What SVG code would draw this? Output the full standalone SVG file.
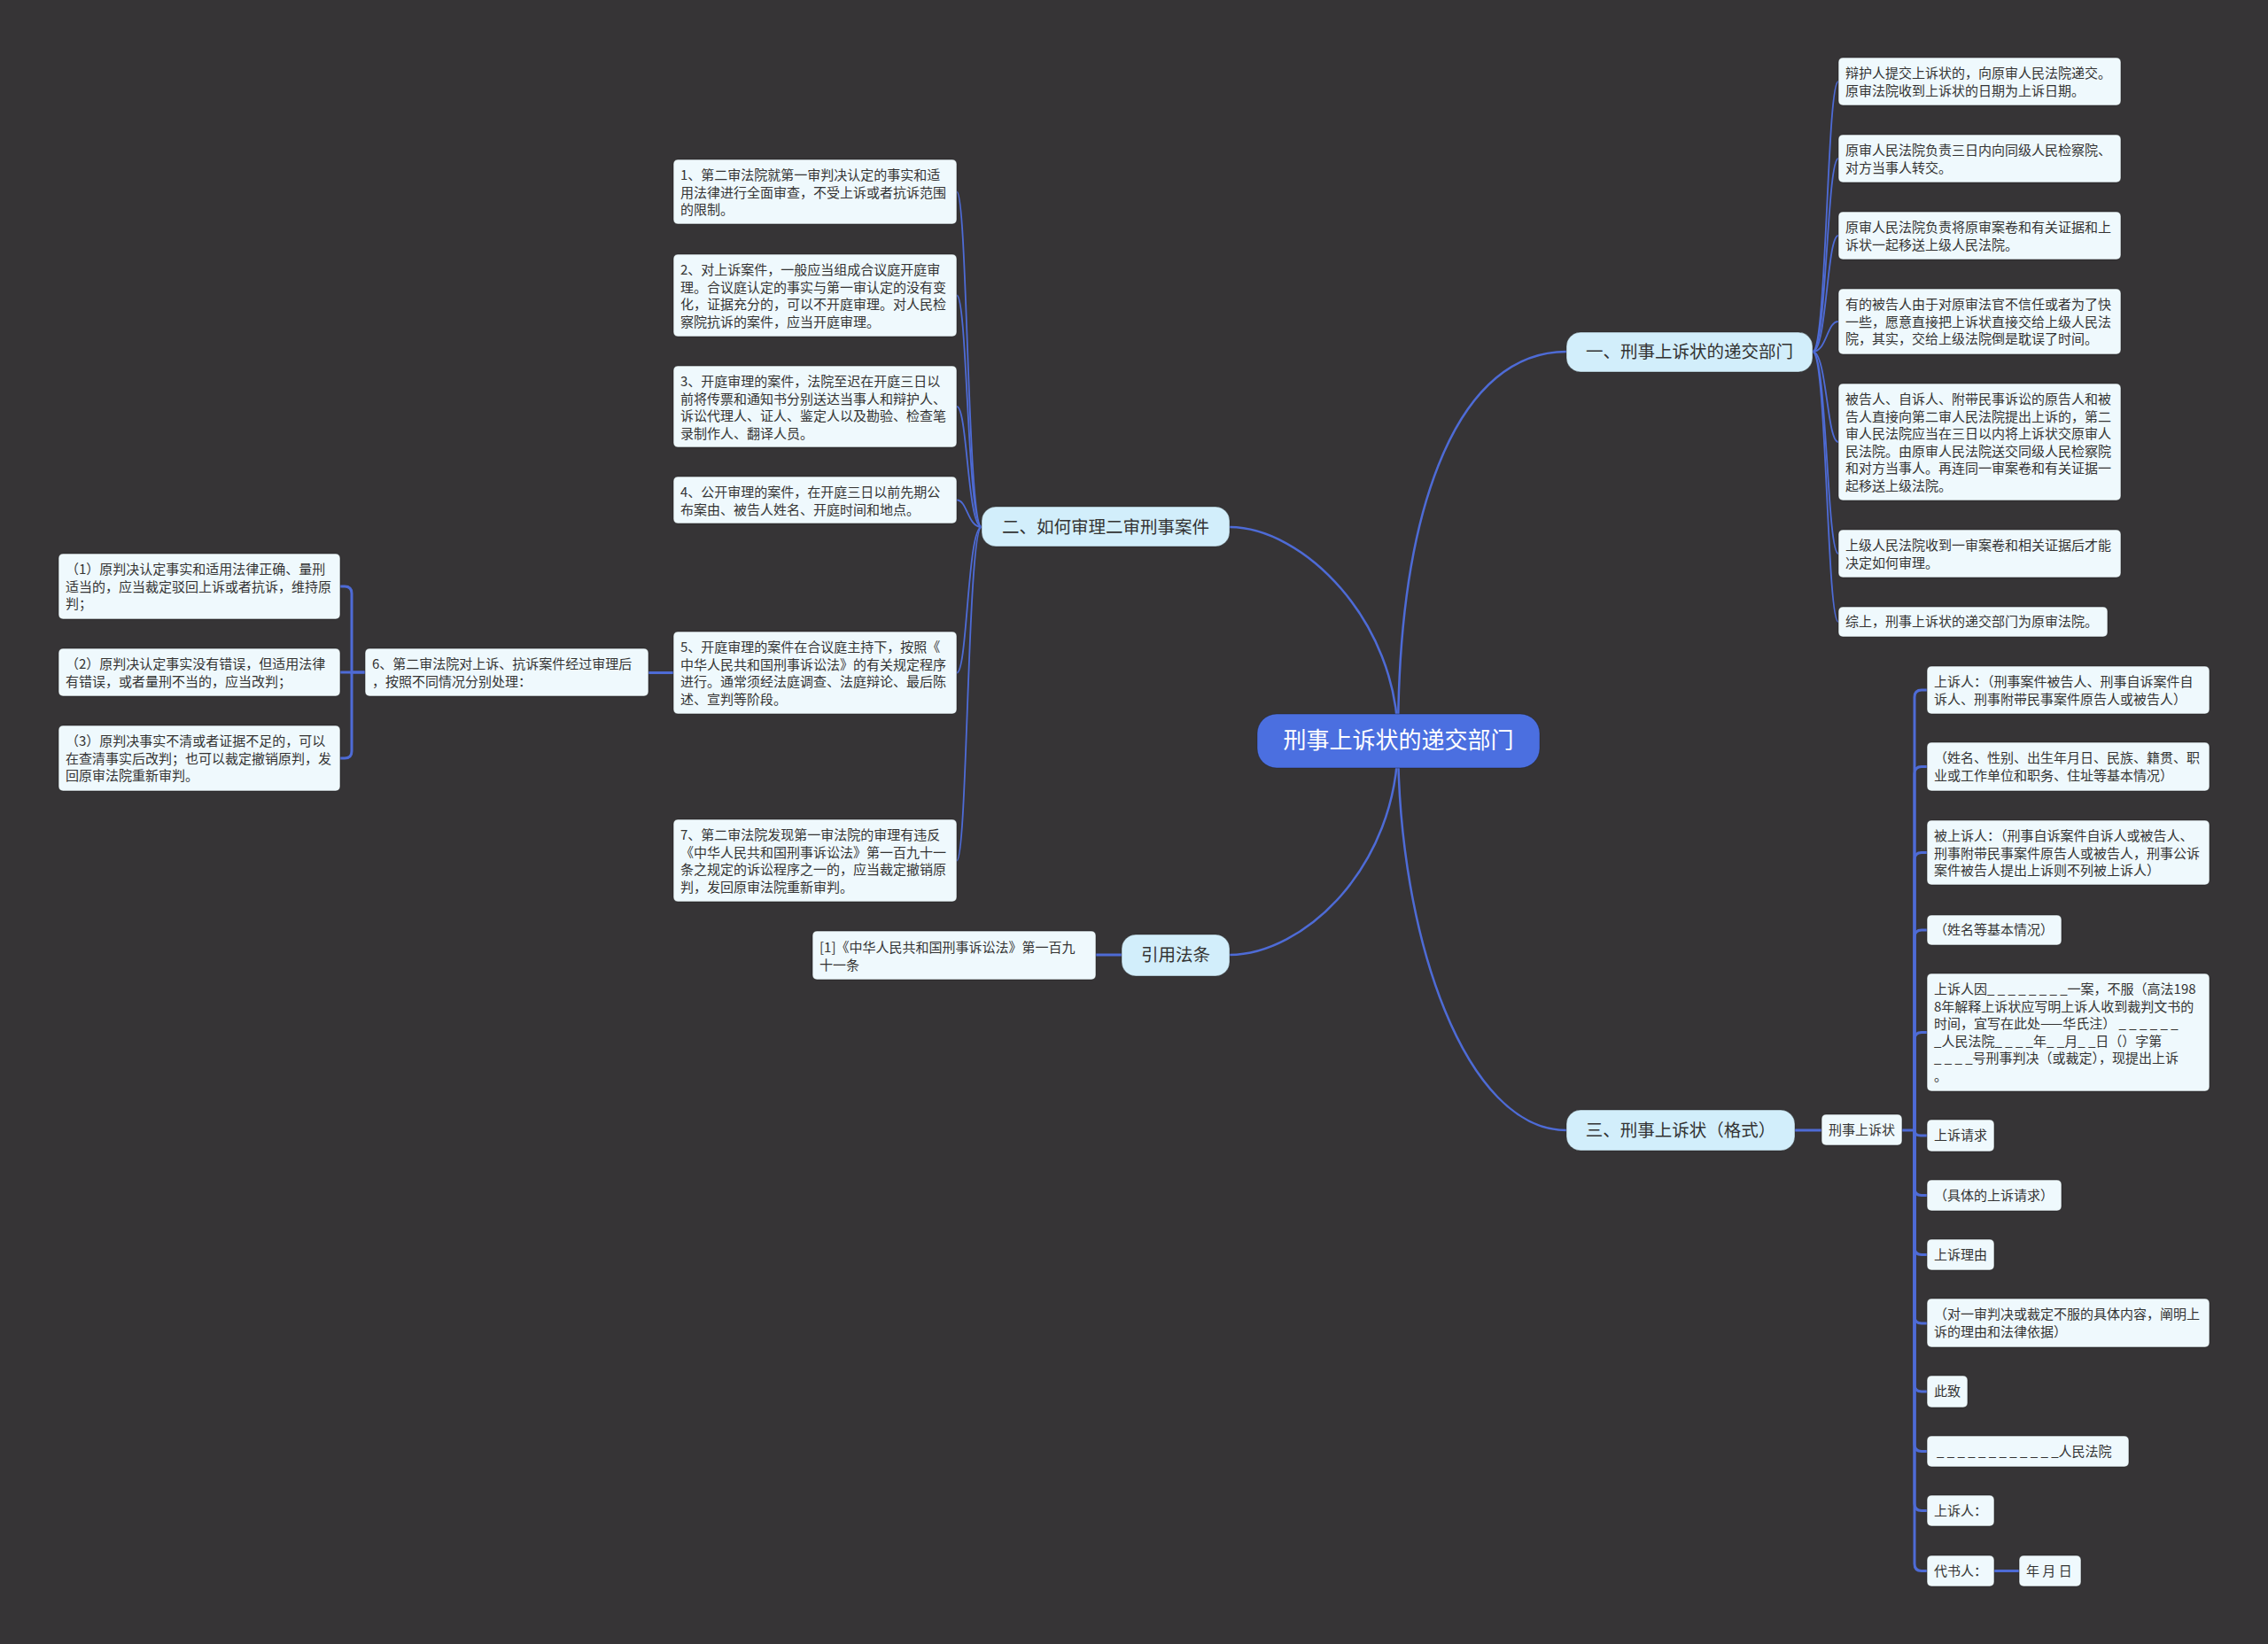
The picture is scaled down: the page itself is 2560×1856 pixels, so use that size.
<svg xmlns="http://www.w3.org/2000/svg" width="2560" height="1856" viewBox="0 0 2560 1856">
<style>
text{font-family:"Noto Sans CJK SC","Noto Sans",sans-serif;}
.leaf{fill:#eff9fd;stroke:#1c1c1c;stroke-opacity:.55;stroke-width:1}
.lt{font-size:15px;fill:#333}
.br{fill:#d2eefb;stroke:#1c1c1c;stroke-opacity:.4;stroke-width:1}
.bt{font-size:19.5px;fill:#333;text-anchor:middle}
.main{fill:none;stroke:#4e6bd6;stroke-width:2.5}
.thin{fill:none;stroke:#4e6bd6;stroke-width:1.8}
.thick{fill:none;stroke:#4e6bd6;stroke-width:3}
</style>
<rect x="0" y="0" width="2560" height="1856" fill="#363436"/>
<g id="connectors">
<path class="main" d="M1578 836 C1578 560 1650 397 1768 397"/>
<path class="main" d="M1578 836 C1578 700 1470 595 1388 595"/>
<path class="main" d="M1578 836 C1578 980 1470 1078 1388 1078"/>
<path class="main" d="M1578 836 C1578 1060 1655 1276 1768 1276"/>
<path class="thin" d="M1108 595 C1092 595 1092 216.5 1080 216.5"/>
<path class="thin" d="M1108 595 C1092 595 1092 333.5 1080 333.5"/>
<path class="thin" d="M1108 595 C1092 595 1092 459 1080 459"/>
<path class="thin" d="M1108 595 C1092 595 1092 564.5 1080 564.5"/>
<path class="thin" d="M1108 595 C1092 595 1092 759.5 1080 759.5"/>
<path class="thin" d="M1108 595 C1092 595 1092 971.5 1080 971.5"/>
<path class="thick" d="M760 759.5 H732"/>
<path class="thick" d="M412 759 H397 V670 Q397 662 389 662 H384"/>
<path class="thick" d="M412 759 H384"/>
<path class="thick" d="M397 759 V848 Q397 856 389 856 H384"/>
<path class="thick" d="M1266 1078 H1237"/>
<path class="thin" d="M2046 397 C2062 397 2062 92 2075 92"/>
<path class="thin" d="M2046 397 C2062 397 2062 179 2075 179"/>
<path class="thin" d="M2046 397 C2062 397 2062 266 2075 266"/>
<path class="thin" d="M2046 397 C2062 397 2062 363 2075 363"/>
<path class="thin" d="M2046 397 C2062 397 2062 499 2075 499"/>
<path class="thin" d="M2046 397 C2062 397 2062 625 2075 625"/>
<path class="thin" d="M2046 397 C2062 397 2062 702 2075 702"/>
<path class="thick" d="M2026 1276 H2056"/>
<path class="thick" d="M2147 1276 H2161"/>
<path class="thick" d="M2161 1276 V787 Q2161 779 2169 779 H2175"/>
<path class="thick" d="M2161 1276 V873.5 Q2161 865.5 2169 865.5 H2175"/>
<path class="thick" d="M2161 1276 V970.5 Q2161 962.5 2169 962.5 H2175"/>
<path class="thick" d="M2161 1276 V1058 Q2161 1050 2169 1050 H2175"/>
<path class="thick" d="M2161 1276 V1173.5 Q2161 1165.5 2169 1165.5 H2175"/>
<path class="thick" d="M2161 1276 Q2161 1282 2168 1282 H2175"/>
<path class="thick" d="M2161 1276 V1341.5 Q2161 1349.5 2169 1349.5 H2175"/>
<path class="thick" d="M2161 1276 V1408.5 Q2161 1416.5 2169 1416.5 H2175"/>
<path class="thick" d="M2161 1276 V1486 Q2161 1494 2169 1494 H2175"/>
<path class="thick" d="M2161 1276 V1563 Q2161 1571 2169 1571 H2175"/>
<path class="thick" d="M2161 1276 V1630.5 Q2161 1638.5 2169 1638.5 H2175"/>
<path class="thick" d="M2161 1276 V1697.5 Q2161 1705.5 2169 1705.5 H2175"/>
<path class="thick" d="M2161 1276 V1765.5 Q2161 1773.5 2169 1773.5 H2175"/>
<path class="thick" d="M2251 1773.5 H2279"/>
</g>
<g id="center">
<rect x="1419" y="806" width="319" height="61" rx="22" fill="#4b6fe0" stroke="#1c1c1c" stroke-opacity=".4"/>
<text x="1578.5" y="845" font-size="26" fill="#fff" text-anchor="middle">刑事上诉状的递交部门</text>
</g>
<g id="b1">
<rect class="br" x="1768" y="375" width="278" height="45" rx="16"/>
<text class="bt" x="1907" y="404">一、刑事上诉状的递交部门</text>
</g>
<g id="b2">
<rect class="br" x="1108" y="572" width="280" height="45" rx="16"/>
<text class="bt" x="1248" y="602">二、如何审理二审刑事案件</text>
</g>
<g id="b3">
<rect class="br" x="1768" y="1253" width="258" height="46" rx="16"/>
<text class="bt" x="1897" y="1283">三、刑事上诉状（格式）</text>
</g>
<g id="b4">
<rect class="br" x="1266" y="1055" width="122" height="47" rx="16"/>
<text class="bt" x="1327" y="1085">引用法条</text>
</g>
<g id="n1">
<rect class="leaf" x="760" y="180" width="320" height="73" rx="5"/>
<text class="lt" y="203"><tspan x="768">1、第二审法院就第一审判决认定的事实和适</tspan><tspan x="768" dy="19.5">用法律进行全面审查，不受上诉或者抗诉范围</tspan><tspan x="768" dy="19.5">的限制。</tspan></text>
</g>
<g id="n2">
<rect class="leaf" x="760" y="287" width="320" height="93" rx="5"/>
<text class="lt" y="310"><tspan x="768">2、对上诉案件，一般应当组成合议庭开庭审</tspan><tspan x="768" dy="19.5">理。合议庭认定的事实与第一审认定的没有变</tspan><tspan x="768" dy="19.5">化，证据充分的，可以不开庭审理。对人民检</tspan><tspan x="768" dy="19.5">察院抗诉的案件，应当开庭审理。</tspan></text>
</g>
<g id="n3">
<rect class="leaf" x="760" y="413" width="320" height="92" rx="5"/>
<text class="lt" y="436"><tspan x="768">3、开庭审理的案件，法院至迟在开庭三日以</tspan><tspan x="768" dy="19.5">前将传票和通知书分别送达当事人和辩护人、</tspan><tspan x="768" dy="19.5">诉讼代理人、证人、鉴定人以及勘验、检查笔</tspan><tspan x="768" dy="19.5">录制作人、翻译人员。</tspan></text>
</g>
<g id="n4">
<rect class="leaf" x="760" y="538" width="320" height="53" rx="5"/>
<text class="lt" y="561"><tspan x="768">4、公开审理的案件，在开庭三日以前先期公</tspan><tspan x="768" dy="19.5">布案由、被告人姓名、开庭时间和地点。</tspan></text>
</g>
<g id="n5">
<rect class="leaf" x="760" y="713" width="320" height="93" rx="5"/>
<text class="lt" y="736"><tspan x="768">5、开庭审理的案件在合议庭主持下，按照《</tspan><tspan x="768" dy="19.5">中华人民共和国刑事诉讼法》的有关规定程序</tspan><tspan x="768" dy="19.5">进行。通常须经法庭调查、法庭辩论、最后陈</tspan><tspan x="768" dy="19.5">述、宣判等阶段。</tspan></text>
</g>
<g id="n7">
<rect class="leaf" x="760" y="925" width="320" height="93" rx="5"/>
<text class="lt" y="948"><tspan x="768">7、第二审法院发现第一审法院的审理有违反</tspan><tspan x="768" dy="19.5">《中华人民共和国刑事诉讼法》第一百九十一</tspan><tspan x="768" dy="19.5">条之规定的诉讼程序之一的，应当裁定撤销原</tspan><tspan x="768" dy="19.5">判，发回原审法院重新审判。</tspan></text>
</g>
<g id="n6">
<rect class="leaf" x="412" y="732" width="320" height="54" rx="5"/>
<text class="lt" y="755"><tspan x="420">6、第二审法院对上诉、抗诉案件经过审理后</tspan><tspan x="420" dy="19.5">，按照不同情况分别处理：</tspan></text>
</g>
<g id="s1">
<rect class="leaf" x="66" y="625" width="318" height="74" rx="5"/>
<text class="lt" y="648"><tspan x="74">（1）原判决认定事实和适用法律正确、量刑</tspan><tspan x="74" dy="19.5">适当的，应当裁定驳回上诉或者抗诉，维持原</tspan><tspan x="74" dy="19.5">判；</tspan></text>
</g>
<g id="s2">
<rect class="leaf" x="66" y="732" width="318" height="54" rx="5"/>
<text class="lt" y="755"><tspan x="74">（2）原判决认定事实没有错误，但适用法律</tspan><tspan x="74" dy="19.5">有错误，或者量刑不当的，应当改判；</tspan></text>
</g>
<g id="s3">
<rect class="leaf" x="66" y="819" width="318" height="74" rx="5"/>
<text class="lt" y="842"><tspan x="74">（3）原判决事实不清或者证据不足的，可以</tspan><tspan x="74" dy="19.5">在查清事实后改判；也可以裁定撤销原判，发</tspan><tspan x="74" dy="19.5">回原审法院重新审判。</tspan></text>
</g>
<g id="ref">
<rect class="leaf" x="917" y="1051" width="320" height="55" rx="5"/>
<text class="lt" y="1075"><tspan x="925">[1]《中华人民共和国刑事诉讼法》第一百九</tspan><tspan x="925" dy="19.5">十一条</tspan></text>
</g>
<g id="r1">
<rect class="leaf" x="2075" y="65" width="319" height="54" rx="5"/>
<text class="lt" y="88"><tspan x="2083">辩护人提交上诉状的，向原审人民法院递交。</tspan><tspan x="2083" dy="19.5">原审法院收到上诉状的日期为上诉日期。</tspan></text>
</g>
<g id="r2">
<rect class="leaf" x="2075" y="152" width="319" height="54" rx="5"/>
<text class="lt" y="175"><tspan x="2083">原审人民法院负责三日内向同级人民检察院、</tspan><tspan x="2083" dy="19.5">对方当事人转交。</tspan></text>
</g>
<g id="r3">
<rect class="leaf" x="2075" y="239" width="319" height="54" rx="5"/>
<text class="lt" y="262"><tspan x="2083">原审人民法院负责将原审案卷和有关证据和上</tspan><tspan x="2083" dy="19.5">诉状一起移送上级人民法院。</tspan></text>
</g>
<g id="r4">
<rect class="leaf" x="2075" y="326" width="319" height="74" rx="5"/>
<text class="lt" y="349"><tspan x="2083">有的被告人由于对原审法官不信任或者为了快</tspan><tspan x="2083" dy="19.5">一些，愿意直接把上诉状直接交给上级人民法</tspan><tspan x="2083" dy="19.5">院，其实，交给上级法院倒是耽误了时间。</tspan></text>
</g>
<g id="r5">
<rect class="leaf" x="2075" y="433" width="319" height="132" rx="5"/>
<text class="lt" y="456"><tspan x="2083">被告人、自诉人、附带民事诉讼的原告人和被</tspan><tspan x="2083" dy="19.5">告人直接向第二审人民法院提出上诉的，第二</tspan><tspan x="2083" dy="19.5">审人民法院应当在三日以内将上诉状交原审人</tspan><tspan x="2083" dy="19.5">民法院。由原审人民法院送交同级人民检察院</tspan><tspan x="2083" dy="19.5">和对方当事人。再连同一审案卷和有关证据一</tspan><tspan x="2083" dy="19.5">起移送上级法院。</tspan></text>
</g>
<g id="r6">
<rect class="leaf" x="2075" y="598" width="319" height="54" rx="5"/>
<text class="lt" y="621"><tspan x="2083">上级人民法院收到一审案卷和相关证据后才能</tspan><tspan x="2083" dy="19.5">决定如何审理。</tspan></text>
</g>
<g id="r7">
<rect class="leaf" x="2075" y="685" width="304" height="34" rx="5"/>
<text class="lt" x="2083" y="707">综上，刑事上诉状的递交部门为原审法院。</text>
</g>
<g id="k">
<rect class="leaf" x="2056" y="1258" width="91" height="35" rx="5"/>
<text class="lt" x="2064" y="1281">刑事上诉状</text>
</g>
<g id="c1">
<rect class="leaf" x="2175" y="752" width="319" height="54" rx="5"/>
<text class="lt" y="775"><tspan x="2183">上诉人：（刑事案件被告人、刑事自诉案件自</tspan><tspan x="2183" dy="19.5">诉人、刑事附带民事案件原告人或被告人）</tspan></text>
</g>
<g id="c2">
<rect class="leaf" x="2175" y="838" width="319" height="55" rx="5"/>
<text class="lt" y="861"><tspan x="2183">（姓名、性别、出生年月日、民族、籍贯、职</tspan><tspan x="2183" dy="19.5">业或工作单位和职务、住址等基本情况）</tspan></text>
</g>
<g id="c3">
<rect class="leaf" x="2175" y="926" width="319" height="73" rx="5"/>
<text class="lt" y="949"><tspan x="2183">被上诉人：（刑事自诉案件自诉人或被告人、</tspan><tspan x="2183" dy="19.5">刑事附带民事案件原告人或被告人，刑事公诉</tspan><tspan x="2183" dy="19.5">案件被告人提出上诉则不列被上诉人）</tspan></text>
</g>
<g id="c4">
<rect class="leaf" x="2175" y="1033" width="152" height="34" rx="5"/>
<text class="lt" x="2183" y="1055">（姓名等基本情况）</text>
</g>
<g id="c5">
<rect class="leaf" x="2175" y="1099" width="319" height="133" rx="5"/>
<text class="lt" y="1122"><tspan x="2183">上诉人因_ _ _ _ _ _ _ _一案，不服（高法198</tspan><tspan x="2183" dy="19.5">8年解释上诉状应写明上诉人收到裁判文书的</tspan><tspan x="2183" dy="19.5">时间，宜写在此处——华氏注） _ _ _ _ _ _</tspan><tspan x="2183" dy="19.5">_人民法院_ _ _ _年_ _月_ _日（）字第</tspan><tspan x="2183" dy="19.5">_ _ _ _号刑事判决（或裁定），现提出上诉</tspan><tspan x="2183" dy="19.5">。</tspan></text>
</g>
<g id="c6">
<rect class="leaf" x="2175" y="1264" width="76" height="36" rx="5"/>
<text class="lt" x="2183" y="1287">上诉请求</text>
</g>
<g id="c7">
<rect class="leaf" x="2175" y="1332" width="152" height="35" rx="5"/>
<text class="lt" x="2183" y="1355">（具体的上诉请求）</text>
</g>
<g id="c8">
<rect class="leaf" x="2175" y="1399" width="76" height="35" rx="5"/>
<text class="lt" x="2183" y="1422">上诉理由</text>
</g>
<g id="c9">
<rect class="leaf" x="2175" y="1466" width="319" height="55" rx="5"/>
<text class="lt" y="1489"><tspan x="2183">（对一审判决或裁定不服的具体内容，阐明上</tspan><tspan x="2183" dy="19.5">诉的理由和法律依据）</tspan></text>
</g>
<g id="c10">
<rect class="leaf" x="2175" y="1553" width="46" height="36" rx="5"/>
<text class="lt" x="2183" y="1576">此致</text>
</g>
<g id="c11">
<rect class="leaf" x="2175" y="1621" width="228" height="35" rx="5"/>
<text class="lt" x="2186" y="1644">_ _ _ _ _ _ _ _ _ _ _ _人民法院</text>
</g>
<g id="c12">
<rect class="leaf" x="2175" y="1688" width="76" height="35" rx="5"/>
<text class="lt" x="2183" y="1711">上诉人：</text>
</g>
<g id="c13">
<rect class="leaf" x="2175" y="1756" width="76" height="35" rx="5"/>
<text class="lt" x="2183" y="1779">代书人：</text>
</g>
<g id="c14">
<rect class="leaf" x="2279" y="1756" width="70" height="35" rx="5"/>
<text class="lt" x="2287" y="1779">年 月 日</text>
</g>
</svg>
